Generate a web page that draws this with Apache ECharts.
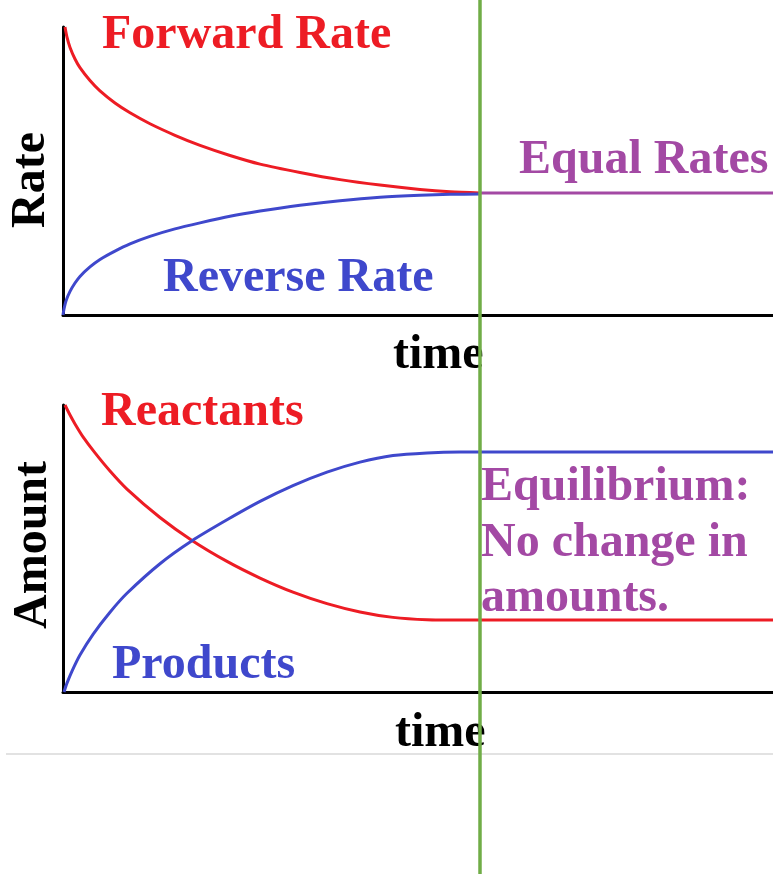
<!DOCTYPE html>
<html>
<head>
<meta charset="utf-8">
<script src="https://cdn.jsdelivr.net/npm/echarts@6/dist/echarts.min.js"></script>
<style>html,body{margin:0;padding:0;background:#fff;}#chart{width:773px;height:874px;}</style>
</head>
<body>
<div id="chart"></div>
<script>
// ---- data (time 0..100, value 0..100) ----
const eqTime = 58.73;
const fwdT   = [0.28, 0.56, 0.99, 1.69, 2.39, 3.80, 5.21, 7.32, 9.44, 12.25, 15.77, 19.30, 23.52, 27.75, 33.38, 39.01, 44.65, 50.28, 54.51, 58.73];
const fwdV   = [100, 96.5, 92.9, 88.9, 85.9, 81.4, 77.8, 73.6, 70.2, 66.4, 62.4, 58.9, 55.4, 52.4, 49.5, 47.0, 45.1, 43.6, 42.8, 42.4];
const revT   = [0, 0.14, 0.42, 0.99, 1.69, 2.39, 3.80, 5.21, 7.32, 9.44, 12.25, 15.77, 19.30, 23.52, 27.75, 33.38, 39.01, 44.65, 50.28, 54.51, 58.73];
const revV   = [0, 2.1, 4.9, 8.2, 11.1, 13.4, 16.7, 19.3, 22.2, 24.7, 27.3, 29.9, 32.0, 34.3, 36.1, 38.1, 39.7, 40.9, 41.6, 41.9, 42.0];
const equalT = [58.73, 100];
const equalV = [42.4, 42.4];
const reactT = [0.28, 0.99, 1.69, 2.82, 4.51, 6.62, 9.01, 13.66, 18.17, 23.10, 27.75, 32.39, 37.18, 41.83, 46.48, 51.27, 55.92, 58.73, 100];
const reactV = [100, 96.5, 93.4, 88.9, 83.3, 77.0, 70.7, 60.8, 52.8, 45.5, 39.7, 34.8, 30.8, 27.9, 26.0, 25.2, 25.1, 25.1, 25.1];
const prodT  = [0.14, 0.56, 1.27, 2.39, 4.23, 6.62, 9.01, 13.66, 18.17, 23.10, 27.75, 32.39, 37.18, 41.83, 46.48, 51.27, 55.92, 58.73, 100];
const prodV  = [0, 3.1, 7.3, 12.9, 20.1, 27.8, 34.4, 44.7, 52.7, 60.0, 66.4, 71.9, 76.6, 80.1, 82.4, 83.3, 83.6, 83.6, 83.6];

const labels = {
  forward: 'Forward Rate', reverse: 'Reverse Rate', equal: 'Equal Rates',
  reactants: 'Reactants', products: 'Products', rate: 'Rate', amount: 'Amount', time: 'time',
  equilibrium: ['Equilibrium:', 'No change in', 'amounts.']
};

const RED = '#ed1c24', BLUE = '#3f48cc', PURPLE = '#a349a4', GREEN = '#70ad47';
const FONT = 'bold 48px "Liberation Serif", "Times New Roman", serif';

const pairs = (t, v) => t.map((x, i) => [x, v[i]]);

const chart = echarts.init(document.getElementById('chart'), null, {renderer: 'canvas'});

function axisX(gi, show) {
  return {type: 'value', gridIndex: gi, min: 0, max: 100, show: show,
    axisLine: {show: show, lineStyle: {color: '#000', width: 3}},
    axisTick: {show: false}, axisLabel: {show: false}, splitLine: {show: false}};
}
function axisY(gi, show) {
  return {type: 'value', gridIndex: gi, min: 0, max: 100, show: show,
    axisLine: {show: show, onZero: false, lineStyle: {color: '#000', width: 3}},
    axisTick: {show: false}, axisLabel: {show: false}, splitLine: {show: false}};
}
function curve(name, gi, t, v, color) {
  return {name: name, type: 'line', xAxisIndex: gi, yAxisIndex: gi, data: pairs(t, v),
    smooth: 0.25, symbol: 'none', silent: true,
    lineStyle: {color: color, width: 3}};
}
function txt(text, x, y, color) {
  return {type: 'text', silent: true,
    style: {text: text, x: x, y: y, font: FONT, fill: color, textAlign: 'left', textVerticalAlign: 'middle'}};
}

const option = {
  backgroundColor: '#ffffff',
  animation: false,
  grid: [
    {left: 63, top: 27, width: 710, height: 288},
    {left: 63, top: 405, width: 710, height: 287},
    {left: 63, top: 0, width: 710, height: 874}
  ],
  xAxis: [axisX(0, true), axisX(1, true), axisX(2, false)],
  yAxis: [axisY(0, true), axisY(1, true), axisY(2, false)],
  series: [
    curve(labels.forward, 0, fwdT, fwdV, RED),
    curve(labels.reverse, 0, revT, revV, BLUE),
    curve(labels.equal, 0, equalT, equalV, PURPLE),
    curve(labels.reactants, 1, reactT, reactV, RED),
    curve(labels.products, 1, prodT, prodV, BLUE),
    {type: 'line', xAxisIndex: 2, yAxisIndex: 2, data: [[eqTime, 0]], symbol: 'none',
      lineStyle: {opacity: 0}, silent: true, z: 10,
      markLine: {silent: true, symbol: ['none', 'none'], label: {show: false},
        lineStyle: {color: GREEN, width: 3.5, type: 'solid'},
        data: [{xAxis: eqTime}]}}
  ],
  graphic: [
    {type: 'line', silent: true, shape: {x1: 6, y1: 754, x2: 773, y2: 754},
      style: {stroke: '#d9d9d9', lineWidth: 1.5}},
    txt(labels.forward, 102, 36, RED),
    txt(labels.reverse, 163, 279, BLUE),
    txt(labels.equal, 519, 161, PURPLE),
    txt(labels.time, 393, 356, '#000'),
    txt(labels.reactants, 101, 413, RED),
    txt(labels.products, 112, 666, BLUE),
    txt(labels.time, 395, 734, '#000'),
    txt(labels.equilibrium[0], 481, 488, PURPLE),
    txt(labels.equilibrium[1], 481, 544, PURPLE),
    txt(labels.equilibrium[2], 481, 599, PURPLE),
    {type: 'text', silent: true, x: 32, y: 180, rotation: Math.PI / 2,
      style: {text: labels.rate, x: 0, y: 0, font: FONT, fill: '#000', textAlign: 'center', textVerticalAlign: 'middle'}},
    {type: 'text', silent: true, x: 34, y: 545, rotation: Math.PI / 2,
      style: {text: labels.amount, x: 0, y: 0, font: FONT, fill: '#000', textAlign: 'center', textVerticalAlign: 'middle'}}
  ]
};
chart.setOption(option);
</script>
</body>
</html>
